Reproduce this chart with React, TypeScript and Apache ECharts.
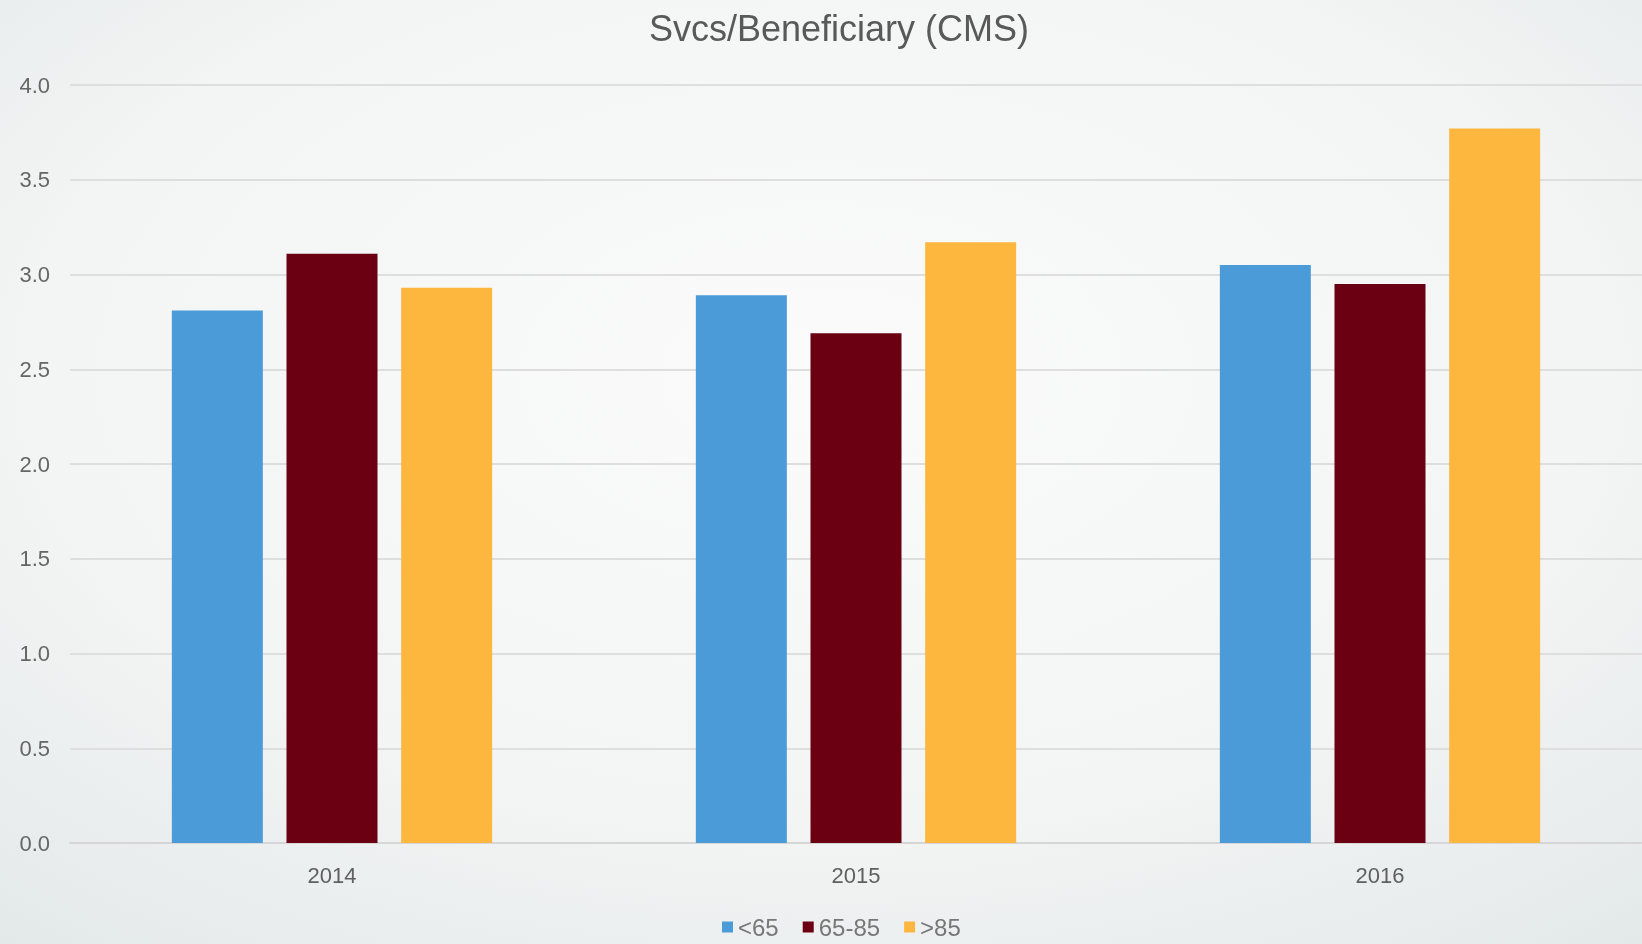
import React, { useEffect, useRef } from "react";
import * as echarts from "echarts";

const years = ["2014", "2015", "2016"];
const seriesNames = ["<65", "65-85", ">85"];
const under65 = [2.81, 2.89, 3.05];
const from65to85 = [3.11, 2.69, 2.95];
const over85 = [2.93, 3.17, 3.77];
const seriesColors = ["#4b9bd9", "#6a0012", "#fdb73f"];
const yTicks = [0, 0.5, 1, 1.5, 2, 2.5, 3, 3.5, 4];

export default function App() {
  const ref = useRef<HTMLDivElement>(null);

  useEffect(() => {
    if (!ref.current) return;
    const chart = echarts.init(ref.current, null, { renderer: "svg" });
    const values = [under65, from65to85, over85];
    chart.setOption({
      animation: false,
      backgroundColor: {
        type: "radial",
        x: 0.5,
        y: 0.4,
        r: 0.8,
        colorStops: [
          { offset: 0, color: "#fbfbfb" },
          { offset: 0.6, color: "#f3f4f4" },
          { offset: 1, color: "#e2e8e8" },
        ],
      },
      title: {
        text: "Svcs/Beneficiary (CMS)",
        left: 834,
        top: 5,
        textAlign: "center",
        textStyle: {
          fontFamily: "Liberation Sans, Arial, sans-serif",
          fontSize: 36,
          fontWeight: "normal",
          color: "#595959",
        },
      },
      legend: {
        data: seriesNames,
        left: 717,
        bottom: 0,
        itemWidth: 11,
        itemHeight: 11,
        itemGap: 24,
        icon: "rect",
        textStyle: {
          fontFamily: "Liberation Sans, Arial, sans-serif",
          fontSize: 24,
          color: "#777",
          padding: [0, 0, 0, 0],
        },
      },
      grid: { left: 70, right: 0, top: 85, bottom: 101 },
      xAxis: {
        type: "category",
        data: years,
        axisTick: { show: false },
        axisLine: { lineStyle: { color: "#d6d6d6", width: 2 } },
        axisLabel: {
          margin: 21,
          fontFamily: "Liberation Sans, Arial, sans-serif",
          fontSize: 22,
          color: "#606060",
        },
      },
      yAxis: {
        type: "value",
        min: yTicks[0],
        max: yTicks[yTicks.length - 1],
        interval: 0.5,
        axisLine: { show: false },
        axisTick: { show: false },
        splitLine: { lineStyle: { color: "#dedede", width: 2 } },
        axisLabel: {
          margin: 20,
          formatter: (v: number) => v.toFixed(1),
          fontFamily: "Liberation Sans, Arial, sans-serif",
          fontSize: 22,
          color: "#666",
        },
      },
      series: seriesNames.map((name, i) => ({
        name,
        type: "bar",
        data: values[i],
        barWidth: 91,
        barGap: "26%",
        itemStyle: { color: seriesColors[i] },
      })),
    });
    return () => chart.dispose();
  }, []);

  return (
    <div
      ref={ref}
      style={{ position: "fixed", left: 0, top: 0, width: 1642, height: 944 }}
    />
  );
}
